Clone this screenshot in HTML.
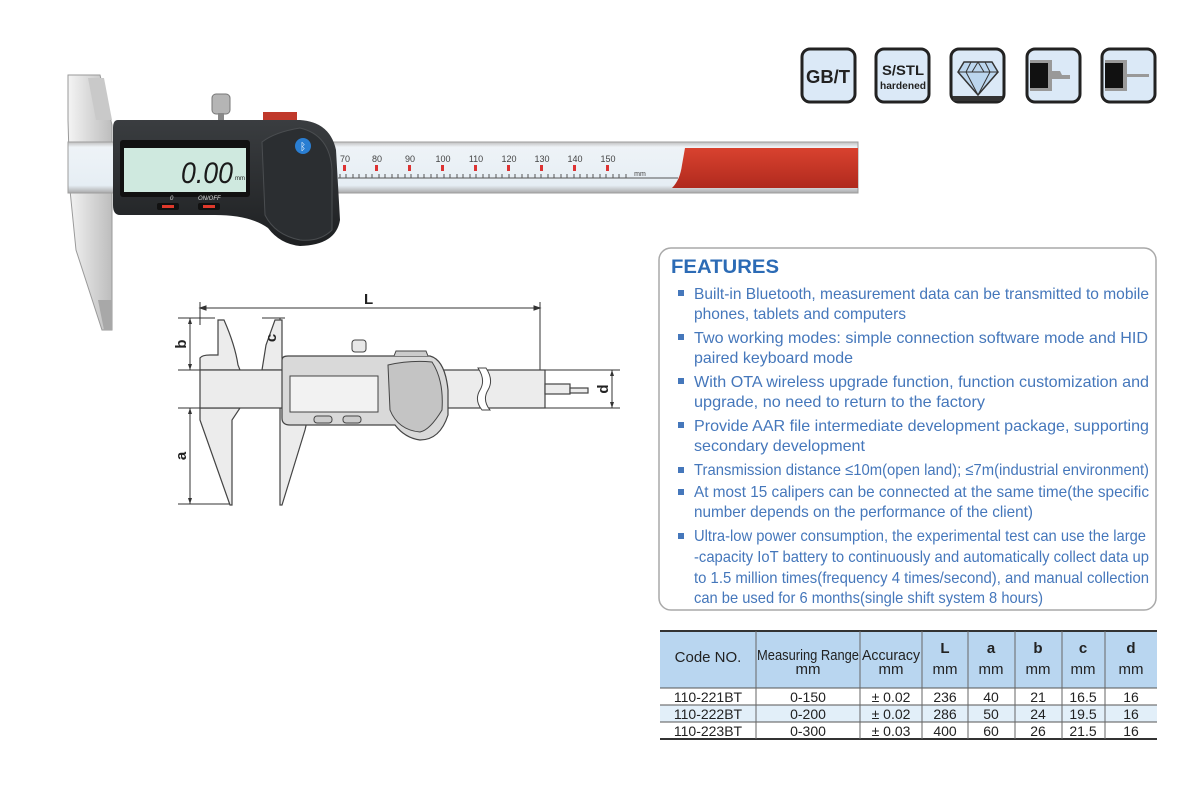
<!DOCTYPE html>
<html><head><meta charset="utf-8"><style>
html,body{margin:0;padding:0;background:#fff;width:1200px;height:800px;overflow:hidden}
svg{display:block}
.f{font-family:"Liberation Sans",Arial,sans-serif}
</style></head><body>
<svg width="1200" height="800" viewBox="0 0 1200 800" xmlns="http://www.w3.org/2000/svg" class="f">
<defs>
<linearGradient id="steel" x1="0" y1="0" x2="1" y2="0"><stop offset="0" stop-color="#f4f4f4"/><stop offset=".5" stop-color="#d8d8d8"/><stop offset="1" stop-color="#bdbdbd"/></linearGradient>
<linearGradient id="beam" x1="0" y1="0" x2="0" y2="1"><stop offset="0" stop-color="#bfbfbf"/><stop offset=".1" stop-color="#eef3f7"/><stop offset=".85" stop-color="#e6eef4"/><stop offset="1" stop-color="#a9a9a9"/></linearGradient>
<linearGradient id="red" x1="0" y1="0" x2="0" y2="1"><stop offset="0" stop-color="#d9422f"/><stop offset="1" stop-color="#b02a1e"/></linearGradient>
<linearGradient id="body" x1="0" y1="0" x2="0" y2="1"><stop offset="0" stop-color="#3a3d40"/><stop offset="1" stop-color="#1e2022"/></linearGradient>
</defs>

<path d="M68,75 L100,75 L112,125 L112,330 L102,330 L76,250 L70,190 L68,120 Z" fill="url(#steel)" stroke="#9a9a9a" stroke-width="1"/>
<path d="M88,78 L104,78 L112,120 L96,120 Z" fill="#c9c9c9"/>
<path d="M98,300 L112,300 L112,330 L104,330 Z" fill="#a8a8a8"/>
<rect x="68" y="142" width="790" height="51" fill="url(#beam)" stroke="#9d9d9d"/>
<path d="M685,148 L858,148 L858,188 L672,188 Q680,180 682,165 Z" fill="url(#red)"/>
<line x1="338" y1="178" x2="678" y2="178" stroke="#555" stroke-width="1"/>
<g stroke="#555" stroke-width="1">
<path d="M340,178 v-4 M346,178 v-4 M353,178 v-4 M359,178 v-4 M366,178 v-4 M372,178 v-4 M379,178 v-4 M385,178 v-4 M392,178 v-4 M398,178 v-4 M405,178 v-4 M411,178 v-4 M418,178 v-4 M424,178 v-4 M431,178 v-4 M437,178 v-4 M444,178 v-4 M450,178 v-4 M457,178 v-4 M463,178 v-4 M470,178 v-4 M476,178 v-4 M483,178 v-4 M489,178 v-4 M496,178 v-4 M502,178 v-4 M509,178 v-4 M515,178 v-4 M522,178 v-4 M528,178 v-4 M535,178 v-4 M541,178 v-4 M548,178 v-4 M554,178 v-4 M561,178 v-4 M567,178 v-4 M574,178 v-4 M580,178 v-4 M587,178 v-4 M593,178 v-4 M600,178 v-4 M606,178 v-4 M613,178 v-4 M619,178 v-4 M626,178 v-4"/>
</g>
<g fill="#d33">
<rect x="343" y="165" width="3" height="6"/><rect x="375" y="165" width="3" height="6"/><rect x="408" y="165" width="3" height="6"/><rect x="441" y="165" width="3" height="6"/><rect x="474" y="165" width="3" height="6"/><rect x="507" y="165" width="3" height="6"/><rect x="540" y="165" width="3" height="6"/><rect x="573" y="165" width="3" height="6"/><rect x="606" y="165" width="3" height="6"/>
</g>
<g font-size="9" fill="#444" text-anchor="middle">
<text x="345" y="162">70</text><text x="377" y="162">80</text><text x="410" y="162">90</text><text x="443" y="162">100</text><text x="476" y="162">110</text><text x="509" y="162">120</text><text x="542" y="162">130</text><text x="575" y="162">140</text><text x="608" y="162">150</text><text x="640" y="176" font-size="7">mm</text>
</g>
<rect x="212" y="94" width="18" height="20" rx="4" fill="#b5b5b5" stroke="#777"/>
<rect x="218" y="113" width="6" height="8" fill="#888"/>
<rect x="263" y="112" width="34" height="10" fill="#c0392b"/>
<path d="M118,120 L300,120 Q330,122 336,150 L340,220 Q336,245 300,246 Q280,244 268,228 Q250,215 215,215 L120,215 Q113,215 113,205 L113,128 Q113,120 118,120 Z" fill="url(#body)"/>
<path d="M262,142 Q275,132 300,128 Q330,135 332,170 L332,230 Q320,242 300,240 Q275,235 265,215 Z" fill="#2b2e31" stroke="#4a4d50"/>
<circle cx="303" cy="146" r="8" fill="#2a7ed2"/>
<text x="303" y="150" font-size="10" fill="#fff" text-anchor="middle">ᛒ</text>
<rect x="120" y="140" width="130" height="57" rx="3" fill="#111"/>
<rect x="124" y="148" width="122" height="44" fill="#cfe9df"/>
<text x="233" y="183" font-size="30" fill="#1a1a1a" text-anchor="end" font-style="italic" textLength="52" lengthAdjust="spacingAndGlyphs">0.00</text>
<text x="235" y="180" font-size="6" fill="#1a1a1a">mm</text>
<text x="170" y="200" font-size="6" fill="#ddd" font-style="italic">0</text>
<text x="198" y="200" font-size="6" fill="#ddd" font-style="italic">ON/OFF</text>
<rect x="157" y="203" width="22" height="7" rx="2" fill="#111"/><rect x="162" y="205" width="12" height="3" fill="#e0392b"/>
<rect x="198" y="203" width="22" height="7" rx="2" fill="#111"/><rect x="203" y="205" width="12" height="3" fill="#e0392b"/>

<g stroke="#222" stroke-width="3" fill="#dbe9f7">
<rect x="802" y="49" width="53" height="53" rx="8"/>
<rect x="876" y="49" width="53" height="53" rx="8"/>
<rect x="951" y="49" width="53" height="53" rx="8"/>
<rect x="1027" y="49" width="53" height="53" rx="8"/>
<rect x="1102" y="49" width="53" height="53" rx="8"/>
</g>
<text x="828" y="83" font-size="18" font-weight="bold" fill="#222" text-anchor="middle" textLength="44" lengthAdjust="spacingAndGlyphs">GB/T</text>
<text x="903" y="75" font-size="14" font-weight="bold" fill="#222" text-anchor="middle" textLength="42" lengthAdjust="spacingAndGlyphs">S/STL</text>
<text x="903" y="89" font-size="10" font-weight="bold" fill="#222" text-anchor="middle" textLength="46" lengthAdjust="spacingAndGlyphs">hardened</text>
<path d="M964,62 L992,62 L998,72 L978,95 L958,72 Z" fill="#bcd6ee" stroke="#333" stroke-width="1.5"/>
<path d="M958,72 H998 M971,62 L966,72 L978,95 L990,72 L985,62 M978,62 L972,72 M978,62 L984,72" fill="none" stroke="#333" stroke-width="1"/>
<rect x="953" y="96" width="49" height="5" fill="#333"/>
<rect x="1030" y="60" width="22" height="31" fill="#999"/><rect x="1030" y="63" width="18" height="25" fill="#111"/>
<path d="M1052,71 h8 l2,4 h8 v4 h-18 z" fill="#999"/>
<rect x="1105" y="60" width="22" height="31" fill="#999"/><rect x="1105" y="63" width="18" height="25" fill="#111"/>
<rect x="1127" y="74" width="22" height="3" fill="#999"/>

<g stroke="#333" stroke-width="1" fill="none">
<line x1="200" y1="308" x2="540" y2="308"/>
<path d="M200,308 l6,-2 v4 z M540,308 l-6,-2 v4 z" fill="#333"/>
<line x1="200" y1="302" x2="200" y2="325"/>
<line x1="540" y1="302" x2="540" y2="370"/>
<line x1="178" y1="318" x2="215" y2="318"/>
<line x1="190" y1="318" x2="190" y2="370"/>
<line x1="190" y1="408" x2="190" y2="504"/>
<line x1="178" y1="504" x2="232" y2="504"/>
<line x1="262" y1="318" x2="285" y2="318"/>
<line x1="280" y1="318" x2="280" y2="356"/>
<line x1="178" y1="370" x2="280" y2="370"/>
<line x1="178" y1="408" x2="240" y2="408"/>
<line x1="545" y1="370" x2="620" y2="370"/>
<line x1="545" y1="408" x2="620" y2="408"/>
<line x1="612" y1="370" x2="612" y2="408"/>
</g>
<g fill="#333">
<path d="M190,318 l-2,6 h4 z M190,370 l-2,-6 h4 z M190,408 l-2,6 h4 z M190,504 l-2,-6 h4 z M280,318 l-2,6 h4 z M280,356 l-2,-6 h4 z M612,370 l-2,6 h4 z M612,408 l-2,-6 h4 z"/>
</g>
<g stroke="#444" stroke-width="1.2" fill="#ececec">
<path d="M200,370 L200,358 Q202,355 210,355 L218,355 L218,320 L224,320 Q235,345 238,365 L240,370 Z"/>
<path d="M200,408 L200,420 L230,505 L232,505 L232,420 L240,408 Z"/>
<path d="M262,370 L266,345 L275,320 L282,320 L282,358 L288,358 L288,370 Z"/>
<path d="M280,408 L280,505 L282,505 L305,430 L310,408 Z"/>
<rect x="200" y="370" width="345" height="38"/>
<rect x="545" y="384" width="25" height="10"/><rect x="570" y="388" width="18" height="5"/>
</g>
<path d="M478,368 Q486,380 480,390 Q474,400 482,410 L490,410 Q482,400 488,390 Q494,380 486,368 Z" fill="#fff" stroke="#444"/>
<rect x="352" y="340" width="14" height="12" rx="3" fill="#e8e8e8" stroke="#444"/>
<path d="M282,360 Q282,356 288,356 L430,356 Q445,360 448,390 L448,415 Q440,440 420,440 Q405,438 395,425 L290,425 Q282,425 282,418 Z" fill="#d9d9d9" stroke="#444" stroke-width="1.2"/>
<rect x="290" y="376" width="88" height="36" fill="#f2f2f2" stroke="#444"/>
<rect x="314" y="416" width="18" height="7" rx="3" fill="#ccc" stroke="#444"/>
<rect x="343" y="416" width="18" height="7" rx="3" fill="#ccc" stroke="#444"/>
<path d="M388,365 Q410,360 432,362 Q444,380 442,410 Q430,430 420,432 Q398,430 390,410 Z" fill="#c4c4c4" stroke="#444"/>
<path d="M394,356 l2,-5 h30 l2,5" fill="#ccc" stroke="#444"/>
<g font-size="15" font-weight="bold" fill="#222">
<text x="364" y="304">L</text>
<text transform="translate(186,344) rotate(-90)" text-anchor="middle">b</text>
<text transform="translate(276,338) rotate(-90)" text-anchor="middle">c</text>
<text transform="translate(186,456) rotate(-90)" text-anchor="middle">a</text>
<text transform="translate(608,389) rotate(-90)" text-anchor="middle">d</text>
</g>

<rect x="659" y="248" width="497" height="362" rx="12" fill="#fff" stroke="#a9a9a9" stroke-width="1.5"/>
<text x="671" y="273" font-size="19" font-weight="bold" fill="#2c6bb5" textLength="108" lengthAdjust="spacingAndGlyphs">FEATURES</text>
<g fill="#4577bb">
<rect x="678" y="290" width="6" height="6"/><rect x="678" y="334" width="6" height="6"/><rect x="678" y="378" width="6" height="6"/><rect x="678" y="422" width="6" height="6"/><rect x="678" y="467" width="6" height="6"/><rect x="678" y="489" width="6" height="6"/><rect x="678" y="533" width="6" height="6"/>
</g>
<g font-size="16" fill="#4577bb">
<text x="694" y="299" textLength="455" lengthAdjust="spacingAndGlyphs">Built-in Bluetooth, measurement data can be transmitted to mobile</text>
<text x="694" y="319" textLength="212" lengthAdjust="spacingAndGlyphs">phones, tablets and computers</text>
<text x="694" y="343" textLength="454" lengthAdjust="spacingAndGlyphs">Two working modes: simple connection software mode and HID</text>
<text x="694" y="363" textLength="159" lengthAdjust="spacingAndGlyphs">paired keyboard mode</text>
<text x="694" y="387" textLength="455" lengthAdjust="spacingAndGlyphs">With OTA wireless upgrade function, function customization and</text>
<text x="694" y="407" textLength="291" lengthAdjust="spacingAndGlyphs">upgrade,  no need to return to the factory</text>
<text x="694" y="431" textLength="455" lengthAdjust="spacingAndGlyphs">Provide AAR file intermediate development package, supporting</text>
<text x="694" y="451" textLength="171" lengthAdjust="spacingAndGlyphs">secondary development</text>
<text x="694" y="475" textLength="455" lengthAdjust="spacingAndGlyphs">Transmission distance ≤10m(open land); ≤7m(industrial environment)</text>
<text x="694" y="497" textLength="455" lengthAdjust="spacingAndGlyphs">At most 15 calipers can be connected at the same time(the specific</text>
<text x="694" y="517" textLength="339" lengthAdjust="spacingAndGlyphs">number depends on the performance of the client)</text>
<text x="694" y="541" textLength="452" lengthAdjust="spacingAndGlyphs">Ultra-low power consumption, the experimental test can use the large</text>
<text x="694" y="562" textLength="455" lengthAdjust="spacingAndGlyphs">-capacity IoT battery to continuously and automatically collect data up</text>
<text x="694" y="583" textLength="455" lengthAdjust="spacingAndGlyphs">to 1.5 million times(frequency 4 times/second),  and manual collection</text>
<text x="694" y="603" textLength="349" lengthAdjust="spacingAndGlyphs">can be used for 6 months(single shift system 8 hours)</text>
</g>

<rect x="660" y="631" width="497" height="57" fill="#b9d6f0"/>
<rect x="660" y="705" width="497" height="17" fill="#e2eff9"/>
<line x1="660" y1="631" x2="1157" y2="631" stroke="#333" stroke-width="2"/>
<line x1="660" y1="688" x2="1157" y2="688" stroke="#555" stroke-width="1"/>
<line x1="660" y1="705" x2="1157" y2="705" stroke="#555" stroke-width="1"/>
<line x1="660" y1="722" x2="1157" y2="722" stroke="#555" stroke-width="1"/>
<line x1="660" y1="739" x2="1157" y2="739" stroke="#333" stroke-width="2"/>
<g stroke="#666" stroke-width="1">
<line x1="756" y1="631" x2="756" y2="739"/><line x1="860" y1="631" x2="860" y2="739"/><line x1="922" y1="631" x2="922" y2="739"/><line x1="968" y1="631" x2="968" y2="739"/><line x1="1015" y1="631" x2="1015" y2="739"/><line x1="1062" y1="631" x2="1062" y2="739"/><line x1="1105" y1="631" x2="1105" y2="739"/>
</g>
<g font-size="15" fill="#222" text-anchor="middle">
<text x="708" y="662">Code NO.</text>
<text x="808" y="660" textLength="102" lengthAdjust="spacingAndGlyphs">Measuring Range</text><text x="808" y="674">mm</text>
<text x="891" y="660" textLength="58" lengthAdjust="spacingAndGlyphs">Accuracy</text><text x="891" y="674">mm</text>
<text x="945" y="674">mm</text><text x="991" y="674">mm</text><text x="1038" y="674">mm</text><text x="1083" y="674">mm</text><text x="1131" y="674">mm</text>
</g>
<g font-size="15" font-weight="bold" fill="#222" text-anchor="middle">
<text x="945" y="653">L</text><text x="991" y="653">a</text><text x="1038" y="653">b</text><text x="1083" y="653">c</text><text x="1131" y="653">d</text>
</g>
<g font-size="14" fill="#222" text-anchor="middle">
<text x="708" y="702">110-221BT</text><text x="808" y="702">0-150</text><text x="891" y="702">± 0.02</text><text x="945" y="702">236</text><text x="991" y="702">40</text><text x="1038" y="702">21</text><text x="1083" y="702">16.5</text><text x="1131" y="702">16</text>
<text x="708" y="719">110-222BT</text><text x="808" y="719">0-200</text><text x="891" y="719">± 0.02</text><text x="945" y="719">286</text><text x="991" y="719">50</text><text x="1038" y="719">24</text><text x="1083" y="719">19.5</text><text x="1131" y="719">16</text>
<text x="708" y="736">110-223BT</text><text x="808" y="736">0-300</text><text x="891" y="736">± 0.03</text><text x="945" y="736">400</text><text x="991" y="736">60</text><text x="1038" y="736">26</text><text x="1083" y="736">21.5</text><text x="1131" y="736">16</text>
</g>
</svg>
</body></html>
